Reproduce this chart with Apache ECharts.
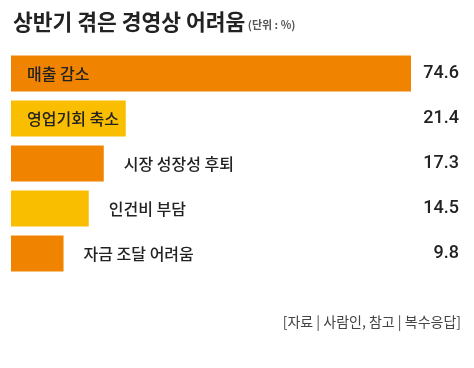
<!DOCTYPE html>
<html><head><meta charset="utf-8">
<script src="https://cdn.jsdelivr.net/npm/echarts@6/dist/echarts.min.js"></script>
<style>html,body{margin:0;padding:0;background:#fff}#c{width:474px;height:368px}</style>
</head><body><div id="c"></div>
<script>
const categories = ['매출 감소', '영업기회 축소', '시장 성장성 후퇴', '인건비 부담', '자금 조달 어려움'];
const values = [74.6, 21.4, 17.3, 14.5, 9.8];
const valueLabels = ['74.6', '21.4', '17.3', '14.5', '9.8'];
const barColors = ['#F08300', '#F9BE00', '#F08300', '#F9BE00', '#F08300'];
const insideLabel = [true, true, false, false, false];

const FONT = '"Noto Sans CJK KR", sans-serif';
const chart = echarts.init(document.getElementById('c'), null, {renderer: 'canvas'});
chart.setOption({
  animation: false,
  backgroundColor: '#fff',
  title: [{
    left: 8, top: 6,
    text: '{a|상반기 겪은 경영상 어려움}{b| (단위 : %)}',
    textStyle: {
      rich: {
        a: {fontFamily: FONT, fontSize: 21.5, fontWeight: 'bold', color: '#222'},
        b: {fontFamily: FONT, fontSize: 11, color: '#555', padding: [6, 0, 0, 0]}
      }
    }
  }, {
    right: 8, top: 310,
    text: '[자료 | 사람인, 참고 | 복수응답]',
    textStyle: {fontFamily: FONT, fontSize: 14, fontWeight: 'normal', color: '#444'}
  }],
  grid: {left: 11, right: 63, top: 51, height: 225, containLabel: false},
  xAxis: {type: 'value', min: 0, max: 74.6, show: false},
  yAxis: [{
    type: 'category', data: categories, inverse: true, show: false
  }, {
    type: 'category', data: valueLabels, inverse: true, position: 'right',
    axisLine: {show: false}, axisTick: {show: false},
    axisLabel: {align: 'right', margin: 48, fontFamily: 'Roboto, sans-serif', fontSize: 18, fontWeight: 500, color: '#222'}
  }],
  series: [{
    type: 'bar',
    yAxisIndex: 0,
    barCategoryGap: '20%',
    data: values.map((v, i) => ({
      value: v,
      itemStyle: {color: barColors[i]},
      label: {
        show: true,
        formatter: categories[i],
        position: insideLabel[i] ? 'insideLeft' : 'right',
        distance: insideLabel[i] ? 16 : 20,
        fontFamily: FONT, fontSize: 16, fontWeight: 500, color: '#222'
      }
    }))
  }]
});
</script></body></html>
